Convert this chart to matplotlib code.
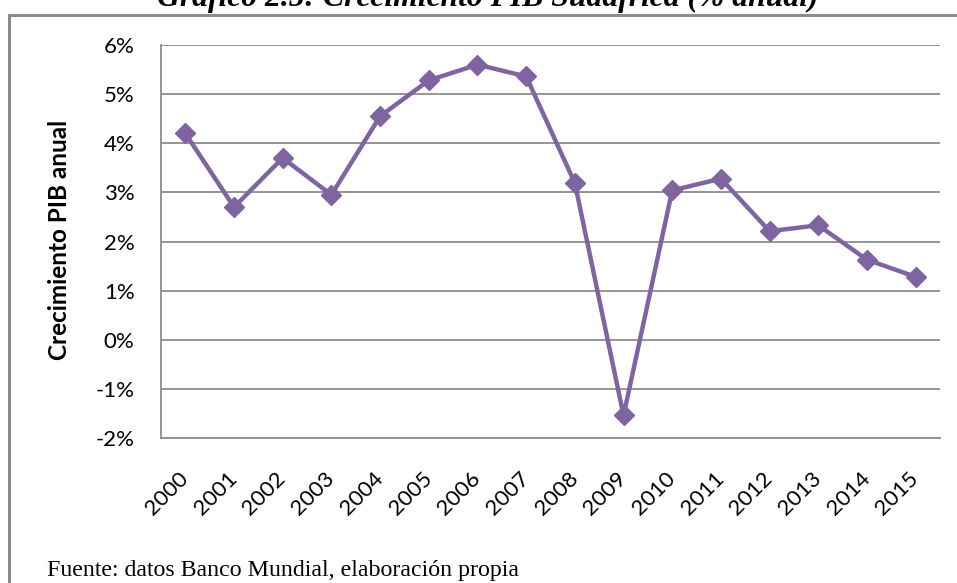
import matplotlib
matplotlib.use("Agg")
import matplotlib.pyplot as plt
from matplotlib.patches import Rectangle
from matplotlib.ticker import FuncFormatter
import matplotlib.transforms as mtransforms

years = ["2000", "2001", "2002", "2003", "2004", "2005", "2006", "2007",
         "2008", "2009", "2010", "2011", "2012", "2013", "2014", "2015"]
growth = [4.20, 2.70, 3.70, 2.95, 4.55, 5.28, 5.60, 5.36,
          3.19, -1.54, 3.04, 3.28, 2.21, 2.33, 1.63, 1.28]
yticks = [-2, -1, 0, 1, 2, 3, 4, 5, 6]

title = "Gráfico 2.5: Crecimiento PIB Sudáfrica (% anual)"
ylabel = "Crecimiento PIB anual"
source = "Fuente: datos Banco Mundial, elaboración propia"

W, H = 957, 583
fig = plt.figure(figsize=(W / 100, H / 100), dpi=100)

# outer chart border
fig.patches.append(Rectangle((9 / W, -0.1), 1.2, 1 - 15 / H + 0.1,
                             transform=fig.transFigure, fill=False,
                             edgecolor="#8c8c8c", linewidth=2.2))

ax = fig.add_axes([161 / W, 1 - 438 / H, 779 / W, (438 - 45) / H])
x = list(range(len(years)))
ax.plot(x, growth, color="#8064A2", linewidth=3.2, marker="D",
        markersize=10.5, markeredgecolor="#8064A2", zorder=3)

ax.set_xlim(-0.5, len(years) - 0.5)
ax.set_ylim(-2, 6)
ax.set_yticks(yticks)
ax.yaxis.set_major_formatter(FuncFormatter(lambda v, p: f"{v:.0f}%"))
ax.grid(axis="y", color="#8c8c8c", linewidth=1.3)
ax.set_axisbelow(True)
for s in ["top", "right"]:
    ax.spines[s].set_visible(False)
for s in ["left", "bottom"]:
    ax.spines[s].set_color("#8c8c8c")
    ax.spines[s].set_linewidth(1.3)

ax.tick_params(axis="x", length=0, pad=22)
ax.tick_params(axis="y", length=0, pad=19, labelsize=16)
ax.set_xticks(x)
ax.set_xticklabels(years, rotation=45, ha="right", va="top",
                   fontsize=16, family="Lato")
offset = mtransforms.ScaledTranslation(7 / 100, 0, fig.dpi_scale_trans)
for lbl in ax.get_xticklabels():
    lbl.set_transform(lbl.get_transform() + offset)
for lbl in ax.get_yticklabels():
    lbl.set_family("Lato")

fig.text(60 / W, 1 - 240 / H, ylabel, rotation=90, ha="center", va="center",
         fontsize=17.5, fontweight="bold", family="Lato")

fig.text(488 / W, 1 - 6 / H, title, ha="center", va="baseline",
         fontsize=22.8, fontweight="bold", fontstyle="italic",
         family="Liberation Serif")

fig.text(47 / W, 1 - 576 / H, source, ha="left", va="baseline",
         fontsize=17.2, family="Liberation Serif")

fig.savefig("out.png", dpi=100)
